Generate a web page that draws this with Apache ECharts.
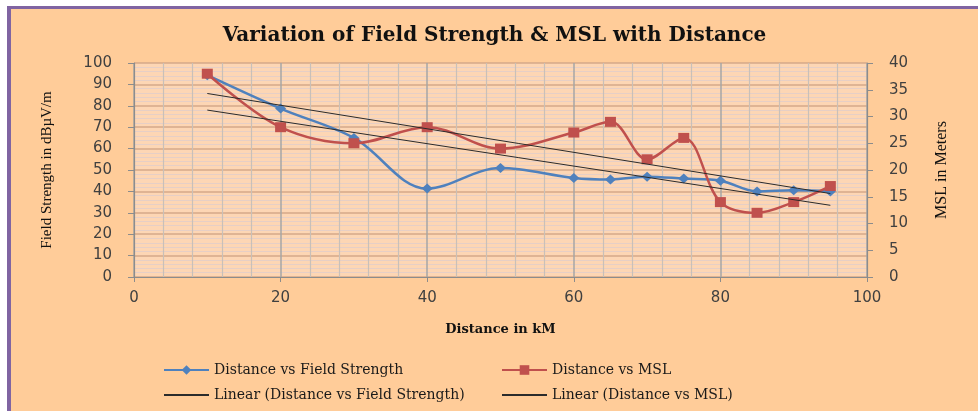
<!DOCTYPE html>
<html>
<head>
<meta charset="utf-8">
<script src="https://cdn.jsdelivr.net/npm/echarts@6/dist/echarts.min.js"></script>
<style>
    html, body {
        margin: 0;
        padding: 0;
        background: #ffffff;
    }
    .frame {
        position: absolute;
        left: 7px;
        top: 6px;
        width: 967px;
        height: 402px;
        border-left: 4px solid #8064a2;
        border-top: 3px solid #8064a2;
        background: #ffcc99;
    }
    #chart {
        width: 967px;
        height: 402px;
    }
</style>
</head>
<body>
<div class="frame"><div id="chart"></div></div>
<script>
// distance in km
var distance = [10, 20, 30, 40, 50, 60, 65, 70, 75, 80, 85, 90, 95];
// field strength in dBuV/m (left axis)
var fieldStrength = [94.3, 78.7, 65, 41.3, 50.9, 46.3, 45.6, 46.9, 46, 45, 40, 40.5, 40];
// MSL in meters (right axis)
var msl = [38, 28, 25, 28, 24, 27, 29, 22, 26, 14, 12, 14, 17];
// linear trend end points
var trendX = [10, 95];
var fieldTrend = [78, 33.5];
var mslTrend = [34.3, 15.6];

var legendNames = [
    "Distance vs Field Strength",
    "Distance vs MSL",
    "Linear (Distance vs Field Strength)",
    "Linear (Distance vs MSL)"
];

function pairs(xs, ys) {
    return xs.map(function (x, i) {
        return [x, ys[i]];
    });
}

var chart = echarts.init(document.getElementById("chart"));

var labelFont = {
    color: "#404040",
    fontSize: 15,
    fontFamily: "DejaVu Sans"
};

// one legend per item so the two columns line up like the original
function legendAt(name, left, top, plainLine) {
    return {
        left: left,
        top: top,
        itemWidth: 45,
        itemHeight: 12,
        textStyle: {
            color: "#1a1a1a",
            fontSize: 14,
            fontFamily: "DejaVu Serif"
        },
        data: [plainLine ? { name: name, itemStyle: { opacity: 0 } } : name]
    };
}

chart.setOption({
    backgroundColor: "#ffcc99",
    animation: false,
    title: {
        text: "Variation of Field Strength & MSL with Distance",
        left: "center",
        top: 12,
        textStyle: {
            color: "#111",
            fontSize: 20,
            fontWeight: "bold",
            fontFamily: "DejaVu Serif"
        }
    },
    legend: [
        legendAt(legendNames[0], 147, 349, false),
        legendAt(legendNames[1], 485, 349, false),
        legendAt(legendNames[2], 147, 374, true),
        legendAt(legendNames[3], 485, 374, true)
    ],
    grid: {
        left: 123,
        right: 111,
        top: 54,
        bottom: 134,
        show: true,
        backgroundColor: "#fdd6b4",
        borderWidth: 0
    },
    xAxis: {
        type: "value",
        min: 0,
        max: 100,
        interval: 20,
        name: "Distance in kM",
        nameLocation: "middle",
        nameGap: 46,
        nameTextStyle: {
            color: "#111",
            fontSize: 13,
            fontWeight: "bold",
            fontFamily: "DejaVu Serif"
        },
        axisLine: { lineStyle: { color: "#8c8c8c", width: 1.2 } },
        axisTick: { show: true, length: 5, lineStyle: { color: "#8c8c8c" } },
        axisLabel: Object.assign({ margin: 14 }, labelFont),
        splitLine: { show: true, lineStyle: { color: "#a6a6a6", width: 1.5 } },
        minorTick: { show: false, splitNumber: 5 },
        minorSplitLine: { show: true, lineStyle: { color: "#c9c0b8", width: 1.2 } }
    },
    yAxis: [
        {
            type: "value",
            min: 0,
            max: 100,
            interval: 10,
            name: "Field Strength in dBµV/m",
            nameLocation: "middle",
            nameGap: 79,
            nameTextStyle: {
                color: "#111",
                fontSize: 15,
                fontFamily: "Liberation Serif"
            },
            axisLine: { show: true, lineStyle: { color: "#8c8c8c", width: 1.2 } },
            axisTick: { show: true, inside: false, length: 6, lineStyle: { color: "#8c8c8c" } },
            axisLabel: Object.assign({ margin: 22 }, labelFont),
            splitLine: { show: true, lineStyle: { color: "#d4a98a", width: 1.5 } },
            minorTick: { show: false, splitNumber: 5 },
            minorSplitLine: { show: true, lineStyle: { color: "#e6cfc6", width: 1.2 } }
        },
        {
            type: "value",
            min: 0,
            max: 40,
            interval: 5,
            position: "right",
            name: "MSL in Meters",
            nameLocation: "middle",
            nameGap: 67,
            nameTextStyle: {
                color: "#111",
                fontSize: 16,
                fontFamily: "Liberation Serif"
            },
            axisLine: { show: true, lineStyle: { color: "#8c8c8c", width: 1.2 } },
            axisTick: { show: true, inside: false, length: 6, lineStyle: { color: "#8c8c8c" } },
            axisLabel: Object.assign({ margin: 22 }, labelFont),
            splitLine: { show: false }
        }
    ],
    series: [
        {
            name: legendNames[0],
            type: "line",
            smooth: 0.35,
            symbol: "diamond",
            symbolSize: [11, 10],
            lineStyle: { color: "#4f81bd", width: 2.5 },
            itemStyle: { color: "#4f81bd" },
            data: pairs(distance, fieldStrength),
            z: 3
        },
        {
            name: legendNames[1],
            type: "line",
            yAxisIndex: 1,
            smooth: 0.35,
            symbol: "rect",
            symbolSize: [11, 10],
            lineStyle: { color: "#c0504d", width: 2.5 },
            itemStyle: { color: "#c0504d" },
            data: pairs(distance, msl),
            z: 4
        },
        {
            name: legendNames[2],
            type: "line",
            symbol: "none",
            lineStyle: { color: "#2b2b2b", width: 1 },
            itemStyle: { color: "#6b5a4c" },
            data: pairs(trendX, fieldTrend),
            z: 5
        },
        {
            name: legendNames[3],
            type: "line",
            yAxisIndex: 1,
            symbol: "none",
            lineStyle: { color: "#2b2b2b", width: 1 },
            itemStyle: { color: "#6b5a4c" },
            data: pairs(trendX, mslTrend),
            z: 5
        }
    ]
});
</script>
</body>
</html>
